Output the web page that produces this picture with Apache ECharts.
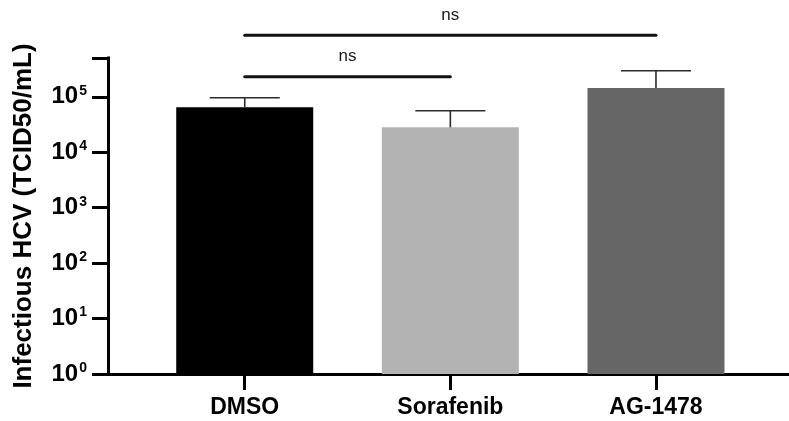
<!DOCTYPE html>
<html>
<head>
<meta charset="utf-8">
<script src="https://cdn.jsdelivr.net/npm/echarts@6/dist/echarts.min.js"></script>
<style>
  html, body { margin: 0; padding: 0; background: #fff; }
  #chart { width: 789px; height: 421px; }
</style>
</head>
<body>
<div id="chart"></div>
<script>
// Infectious HCV titre per treatment (TCID50/mL), mean and upper error
const categories = ['DMSO', 'Sorafenib', 'AG-1478'];
const positions = [1, 2, 3];
const means = [64500, 28100, 143800];
const errorTops = [96100, 56000, 295000];
const barColors = ['#000000', '#b3b3b3', '#666666'];
const yTickValues = [1, 10, 100, 1000, 10000, 100000];
const yTickExponents = ['0', '1', '2', '3', '4', '5'];
// significance comparisons: [from position, to position, level, label]
const comparisons = [
  [1, 2, 0, 'ns'],
  [1, 3, 1, 'ns']
];

const FONT = '"Liberation Sans", Arial, Helvetica, sans-serif';
const bracketY = [76.7, 35.3];
const X_MIN = 0.335;
const X_MAX = 3.647;
const TICK_LEN = 16;

const chart = echarts.init(document.getElementById('chart'), null, { renderer: 'canvas' });

const barData = positions.map((p, i) => ({
  value: [p, means[i]],
  itemStyle: { color: barColors[i] }
}));
const errData = positions.map((p, i) => [p, means[i], errorTops[i]]);

chart.setOption({
  animation: false,
  backgroundColor: '#ffffff',
  grid: { left: 108, right: 0, top: 58, bottom: 47, containLabel: false },
  xAxis: {
    type: 'value',
    min: X_MIN,
    max: X_MAX,
    splitLine: { show: false },
    axisLine: { show: true, onZero: false, lineStyle: { color: '#000', width: 3, cap: 'square' } },
    axisTick: { show: true, customValues: positions, length: TICK_LEN, lineStyle: { color: '#000', width: 3 } },
    axisLabel: {
      customValues: positions,
      margin: 22,
      fontFamily: FONT,
      fontWeight: 'bold',
      fontSize: 23,
      color: '#000',
      formatter: v => categories[positions.indexOf(v)] || ''
    }
  },
  yAxis: {
    type: 'log',
    logBase: 10,
    min: 1,
    max: 500000,
    interval: 1,
    name: 'Infectious HCV (TCID50/mL)',
    nameLocation: 'middle',
    nameGap: 71,
    nameTextStyle: { fontFamily: FONT, fontWeight: 'bold', fontSize: 26, color: '#000' },
    splitLine: { show: false },
    axisLine: { show: true, lineStyle: { color: '#000', width: 3, cap: 'square' } },
    axisTick: { show: true, length: TICK_LEN, lineStyle: { color: '#000', width: 3 } },
    axisLabel: {
      customValues: yTickValues,
      margin: 21,
      formatter: v => {
        const i = yTickValues.findIndex(t => Math.abs(t - v) / t < 1e-6);
        return i < 0 ? '' : '{b|10}{s|' + yTickExponents[i] + '}';
      },
      rich: {
        b: { fontFamily: FONT, fontWeight: 'bold', fontSize: 24, color: '#000', lineHeight: 26 },
        s: { fontFamily: FONT, fontWeight: 'bold', fontSize: 14, color: '#000', verticalAlign: 'top', lineHeight: 15, padding: [0, 0, 0, 1] }
      }
    }
  },
  series: [
    {
      type: 'bar',
      data: barData,
      barWidth: 137,
      itemStyle: { borderWidth: 0 }
    },
    {
      // error bars: stem from the bar top up to the upper error, with a cap
      type: 'custom',
      clip: false,
      data: errData,
      z: 3,
      renderItem: (params, api) => {
        const base = api.coord([api.value(0), api.value(1)]);
        const top = api.coord([api.value(0), api.value(2)]);
        const half = 35;
        const style = { stroke: '#2b2b2b', lineWidth: 1.6, fill: null };
        return {
          type: 'group',
          children: [
            { type: 'line', shape: { x1: base[0], y1: base[1], x2: top[0], y2: top[1] }, style },
            { type: 'line', shape: { x1: top[0] - half, y1: top[1], x2: top[0] + half, y2: top[1] }, style }
          ]
        };
      }
    },
    {
      // significance brackets between groups
      type: 'custom',
      clip: false,
      data: comparisons.map(c => [c[0], c[1], c[2]]),
      z: 4,
      renderItem: (params, api) => {
        const yLine = bracketY[api.value(2)];
        const x1 = api.coord([api.value(0), 1])[0];
        const x2 = api.coord([api.value(1), 1])[0];
        return {
          type: 'group',
          children: [
            {
              type: 'line',
              shape: { x1, y1: yLine, x2, y2: yLine },
              style: { stroke: '#111', lineWidth: 3, lineCap: 'round' }
            },
            {
              type: 'text',
              style: {
                x: (x1 + x2) / 2,
                y: yLine - 20,
                text: comparisons[params.dataIndex][3],
                fontFamily: FONT,
                fontSize: 17,
                fill: '#1a1a1a',
                align: 'center',
                verticalAlign: 'middle'
              }
            }
          ]
        };
      }
    }
  ]
});
</script>
</body>
</html>
